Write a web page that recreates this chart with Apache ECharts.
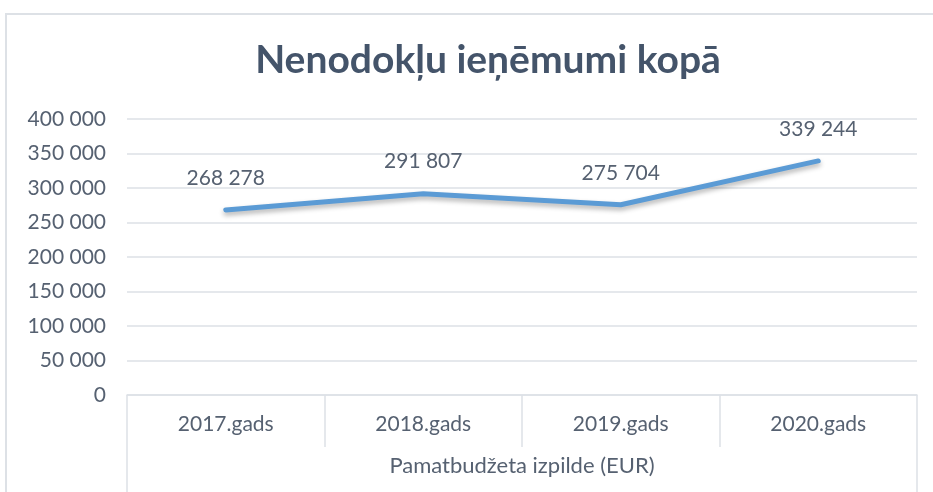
<!DOCTYPE html>
<html>
<head>
<meta charset="utf-8">
<script src="https://cdn.jsdelivr.net/npm/echarts@6/dist/echarts.min.js"></script>
<style>
  html, body { margin: 0; padding: 0; background: #fff; }
  #frame {
    position: absolute; left: 5px; top: 13px;
    width: 1000px; height: 600px;
    border: 2px solid #DDE1E6;
  }
  #main { position: absolute; left: 0; top: 0; width: 933px; height: 492px; }
</style>
</head>
<body>
<div id="frame"></div>
<div id="main"></div>
<script>
// dati
const years = ["2017.gads", "2018.gads", "2019.gads", "2020.gads"];
const groupName = ["Pamatbudžeta izpilde (EUR)"];
const values = [268278, 291807, 275704, 339244];

// 400000 -> "400 000"
function fmt(v) {
  return String(v).replace(/\B(?=(\d{3})+(?!\d))/g, " ");
}

const font = "Lato";
const txtColor = "#566171";
const lineGray = "#DDE1E6";

let myChart = echarts.init(document.getElementById("main"));
myChart.setOption({
  animation: false,
  title: {
    text: "Nenodokļu ieņēmumi kopā",
    left: 483,
    top: 36,
    textAlign: "center",
    textStyle: {
      fontFamily: font,
      fontSize: 39,
      fontWeight: "bold",
      color: "#44546A",
    },
  },
  grid: {
    left: 127,
    right: 16,
    top: 119,
    bottom: 97,
  },
  xAxis: [
    {
      type: "category",
      data: years,
      position: "bottom",
      axisLine: { show: true, lineStyle: { color: lineGray, width: 1.5 } },
      axisTick: {
        show: true,
        interval: 0,
        length: 52,
        lineStyle: { color: lineGray, width: 1.5 },
      },
      axisLabel: {
        margin: 19,
        fontFamily: font,
        fontSize: 21,
        color: txtColor,
      },
    },
    {
      type: "category",
      data: groupName,
      position: "bottom",
      axisLine: { show: false },
      axisTick: {
        show: true,
        length: 100,
        lineStyle: { color: lineGray, width: 1.5 },
      },
      axisLabel: {
        margin: 60,
        fontFamily: font,
        fontSize: 22,
        color: txtColor,
      },
    },
  ],
  yAxis: {
    type: "value",
    min: 0,
    max: 400000,
    interval: 50000,
    axisLine: { show: false },
    axisTick: { show: false },
    splitLine: { lineStyle: { color: lineGray, width: 1.5 } },
    axisLabel: {
      margin: 21,
      fontFamily: font,
      fontSize: 21,
      color: txtColor,
      formatter: fmt,
    },
  },
  series: [
    {
      type: "line",
      xAxisIndex: 0,
      data: values,
      symbol: "circle",
      symbolSize: 1,
      itemStyle: { color: "rgba(91,155,213,0)" },
      smooth: false,
      lineStyle: {
        color: "#5B9BD5",
        width: 5,
        cap: "round",
        join: "round",
        shadowColor: "rgba(0,0,0,0.3)",
        shadowBlur: 5,
        shadowOffsetY: 3,
      },
      label: {
        show: true,
        position: "top",
        distance: 21,
        fontFamily: font,
        fontSize: 21,
        color: txtColor,
        formatter: (p) => fmt(p.value),
      },
    },
  ],
});
</script>
</body>
</html>
